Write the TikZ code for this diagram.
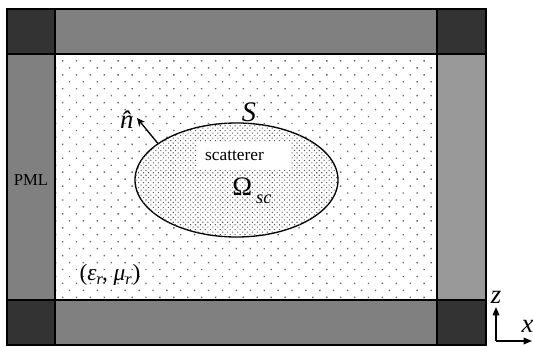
\documentclass[tikz,border=0pt]{standalone}
\usepackage{fontspec}
\setmainfont{Liberation Serif}
\usepackage{tikz}
\usetikzlibrary{arrows.meta, positioning, shapes.geometric, patterns.meta}

\definecolor{pmlgray}{HTML}{808080}
\definecolor{pmlside}{HTML}{999999}
\definecolor{pmlcorner}{HTML}{333333}

\begin{document}
\begin{tikzpicture}[x=0.6pt, y=-0.6pt,
  pml/.style={draw, line width=0.8pt, fill=#1},
  pml/.default=pmlgray,
  free/.style={pattern={Dots[radius=0.6pt, distance=5.9pt, angle=45]}, pattern color=gray!85!black},
  dense/.style={pattern={Dots[radius=0.45pt, distance=2.1pt, angle=45]}, pattern color=gray!70!black},
  arr/.style={-{Stealth[length=5pt, width=4.5pt]}, line width=0.8pt},
  axis/.style={-{Triangle[length=5pt, width=4pt]}, line width=0.7pt},
  lbl/.style={inner sep=0pt, font=\fontsize{#1}{#1}\selectfont},
  lbl/.default=10,
]
  \useasboundingbox (0,0) rectangle (533,346);

  % Free space
  \fill[white] (55,54) rectangle (437,300);
  \fill[free] (55,54) rectangle (437,300);

  % PML strips
  \draw[pml] (55,9) rectangle (437,54);
  \draw[pml] (55,300) rectangle (437,345);
  \draw[pml] (7,54) rectangle (55,300);
  \draw[pml=pmlside] (437,54) rectangle (486,300);
  \foreach \xa/\xb/\ya/\yb in {7/55/9/54, 437/486/9/54, 7/55/300/345, 437/486/300/345}
    \draw[pml=pmlcorner] (\xa,\ya) rectangle (\xb,\yb);
  \node[lbl=10] (pml) at (31,180) {PML};

  % Scatterer
  \node[ellipse, draw, line width=0.8pt, fill=white, postaction={dense},
    minimum width=121.8pt, minimum height=68.4pt, inner sep=0pt] (sc) at (236.5,180) {};
  \node[fill=white, text width=46pt, align=left, inner xsep=4.8pt,
    minimum height=16.8pt, font=\fontsize{10.4}{12}\selectfont] (name) at (243.5,156) {scatterer};
  \node[lbl=16, anchor=base west] (omega) at (232,195)
    {Ω\hspace{2.4pt}\raisebox{-4.8pt}{\fontsize{11}{11}\selectfont\itshape sc}};
  \node[lbl=17, above=0pt of sc.north, xshift=7.5pt] (surf) {\itshape S};

  % Normal
  \coordinate (ntip) at (137,118);
  \node[lbl=16, left=2pt of ntip, yshift=-1pt] (nhat) {\itshape\^{n}};
  \draw[arr] (sc.155) -- (ntip);

  % Medium
  \node[lbl=14] (medium) at (110,275)
    {(\textit{ε}\textsubscript{\itshape r}\kern-1pt, \textit{μ}\textsubscript{\itshape r})};

  % Axes
  \coordinate (o) at (496,341);
  \coordinate (zend) at (496,307);
  \coordinate (xend) at (532,341);
  \draw[axis] (o) -- (zend);
  \draw[axis] (o) -- (xend);
  \node[lbl=16, above=2pt of zend] (zlbl) {\itshape z};
  \node[lbl=16, above left=5pt and -1pt of xend] (xlbl) {\itshape x};

\end{tikzpicture}
\end{document}
